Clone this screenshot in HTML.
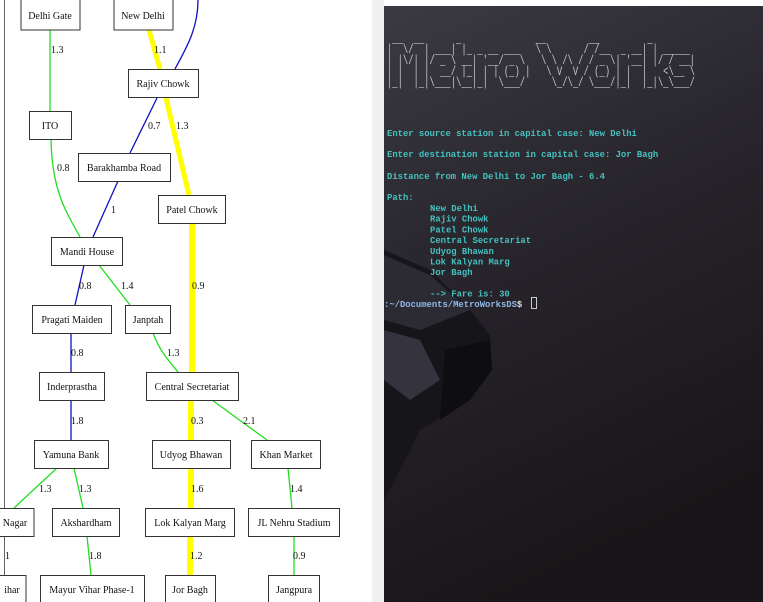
<!DOCTYPE html>
<html><head><meta charset="utf-8"><style>
html,body{margin:0;padding:0;width:763px;height:602px;overflow:hidden;background:#fff}
svg{display:block}
.n{fill:#fff;stroke:#333;stroke-width:1}
.t{font-family:"Liberation Serif",serif;font-size:10px;fill:#111;text-anchor:middle}
.l{font-family:"Liberation Serif",serif;font-size:10px;fill:#111}
.m{font-family:"Liberation Mono",monospace;font-size:8.87px;fill:#45c0c0;font-weight:bold;white-space:pre}
.a{font-family:"Liberation Mono",monospace;font-size:12.5px;fill:#c8c8cc;white-space:pre}
</style></head><body>
<svg width="763" height="602" xmlns="http://www.w3.org/2000/svg">
<defs>
<linearGradient id="bg" x1="0" y1="0" x2="0.3" y2="1">
<stop offset="0" stop-color="#3b3a42"/><stop offset="0.5" stop-color="#26232a"/><stop offset="1" stop-color="#1a1518"/>
</linearGradient>
</defs>
<rect x="372" y="0" width="12" height="602" fill="#f0f0f0"/>
<line x1="4.5" y1="0" x2="4.5" y2="602" stroke="#666" stroke-width="1"/>
<g fill="none">
<path d="M50 30 L50 111" stroke="#22dd22" stroke-width="1.3"/>
<path d="M149 30 L160 69" stroke="#ffff00" stroke-width="5"/>
<path d="M198 0 C198 30 185 50 175 69" stroke="#1010c0" stroke-width="1.3"/>
<path d="M166 98 L189 195" stroke="#ffff00" stroke-width="5"/>
<path d="M157 98 L130 153" stroke="#1010c0" stroke-width="1.3"/>
<path d="M51 139 C52 190 65 210 80 237" stroke="#22dd22" stroke-width="1.3"/>
<path d="M118 181 L93 237" stroke="#1010c0" stroke-width="1.3"/>
<path d="M192 223 L192 372" stroke="#ffff00" stroke-width="6"/>
<path d="M84 265 L75 305" stroke="#1010c0" stroke-width="1.3"/>
<path d="M99 265 L130 305" stroke="#22dd22" stroke-width="1.3"/>
<path d="M71 333 L71 372" stroke="#1010c0" stroke-width="1.3"/>
<path d="M153 333 C160 352 170 362 178 372" stroke="#22dd22" stroke-width="1.3"/>
<path d="M71 400 L71 440" stroke="#1010c0" stroke-width="1.3"/>
<path d="M191 400 L191 440" stroke="#ffff00" stroke-width="6"/>
<path d="M212 400 L267 440" stroke="#22dd22" stroke-width="1.3"/>
<path d="M57 468 L14 508" stroke="#22dd22" stroke-width="1.3"/>
<path d="M74 468 L83 508" stroke="#22dd22" stroke-width="1.3"/>
<path d="M191 468 L191 508" stroke="#ffff00" stroke-width="6"/>
<path d="M288 468 L292 508" stroke="#22dd22" stroke-width="1.3"/>
<path d="M87 536 L91 575" stroke="#22dd22" stroke-width="1.3"/>
<path d="M190 536 L190 575" stroke="#ffff00" stroke-width="6"/>
<path d="M294 536 L294 575" stroke="#22dd22" stroke-width="1.3"/>
</g>
<g class="l">
<text x="51" y="53">1.3</text><text x="154" y="53">1.1</text>
<text x="148" y="129">0.7</text><text x="176" y="129">1.3</text>
<text x="57" y="171">0.8</text><text x="111" y="213">1</text>
<text x="79" y="289">0.8</text><text x="121" y="289">1.4</text><text x="192" y="289">0.9</text>
<text x="71" y="356">0.8</text><text x="167" y="356">1.3</text>
<text x="71" y="424">1.8</text><text x="191" y="424">0.3</text><text x="243" y="424">2.1</text>
<text x="39" y="492">1.3</text><text x="79" y="492">1.3</text><text x="191" y="492">1.6</text><text x="290" y="492">1.4</text>
<text x="5" y="559">1</text><text x="89" y="559">1.8</text><text x="190" y="559">1.2</text><text x="293" y="559">0.9</text>
</g>
<g>
<rect class="n" x="21" y="-2" width="59" height="32"/><text class="t" x="50" y="19">Delhi Gate</text>
<rect class="n" x="114" y="-2" width="59" height="32"/><text class="t" x="143" y="19">New Delhi</text>
<rect class="n" x="128.5" y="69.5" width="70" height="28"/><text class="t" x="163" y="87">Rajiv Chowk</text>
<rect class="n" x="29.5" y="111.5" width="42" height="28"/><text class="t" x="50" y="129">ITO</text>
<rect class="n" x="78.5" y="153.5" width="92" height="28"/><text class="t" x="124" y="171">Barakhamba Road</text>
<rect class="n" x="158.5" y="195.5" width="67" height="28"/><text class="t" x="192" y="213">Patel Chowk</text>
<rect class="n" x="51.5" y="237.5" width="71" height="28"/><text class="t" x="87" y="255">Mandi House</text>
<rect class="n" x="32.5" y="305.5" width="79" height="28"/><text class="t" x="72" y="323">Pragati Maiden</text>
<rect class="n" x="125.5" y="305.5" width="45" height="28"/><text class="t" x="148" y="323">Janptah</text>
<rect class="n" x="39.5" y="372.5" width="65" height="28"/><text class="t" x="72" y="390">Inderprastha</text>
<rect class="n" x="146.5" y="372.5" width="92" height="28"/><text class="t" x="192" y="390">Central Secretariat</text>
<rect class="n" x="34.5" y="440.5" width="74" height="28"/><text class="t" x="71" y="458">Yamuna Bank</text>
<rect class="n" x="152.5" y="440.5" width="78" height="28"/><text class="t" x="191" y="458">Udyog Bhawan</text>
<rect class="n" x="251.5" y="440.5" width="69" height="28"/><text class="t" x="286" y="458">Khan Market</text>
<rect class="n" x="-10" y="508.5" width="44" height="28"/><text class="t" x="15" y="526">Nagar</text>
<rect class="n" x="52.5" y="508.5" width="67" height="28"/><text class="t" x="86" y="526">Akshardham</text>
<rect class="n" x="145.5" y="508.5" width="89" height="28"/><text class="t" x="190" y="526">Lok Kalyan Marg</text>
<rect class="n" x="248.5" y="508.5" width="91" height="28"/><text class="t" x="294" y="526">JL Nehru Stadium</text>
<rect class="n" x="-10" y="575.5" width="36" height="30"/><text class="t" x="12" y="593">ihar</text>
<rect class="n" x="40.5" y="575.5" width="104" height="30"/><text class="t" x="92" y="593">Mayur Vihar Phase-1</text>
<rect class="n" x="165.5" y="575.5" width="50" height="30"/><text class="t" x="190" y="593">Jor Bagh</text>
<rect class="n" x="268.5" y="575.5" width="51" height="30"/><text class="t" x="294" y="593">Jangpura</text>
</g>
<rect x="384" y="6" width="379" height="596" fill="url(#bg)"/>
<g>
<polygon points="384,250 430,270 470,310 490,335 492,370 470,400 420,430 400,470 384,500" fill="#16151a"/>
<polygon points="384,255 430,275 470,310 420,330 384,320" fill="#2c2b34"/>
<polygon points="384,330 420,340 440,380 410,400 384,380" fill="#34333e"/>
<polygon points="445,350 490,340 492,370 470,400 440,420" fill="#0e0d12"/>
</g>
<text class="a"><tspan x="387" y="42" textLength="308" lengthAdjust="spacingAndGlyphs"> __  __      _              __        __         _        </tspan><tspan x="387" y="53" textLength="308" lengthAdjust="spacingAndGlyphs">|  \/  | ___| |_ _ __ ___   \ \      / /__  _ __| | _____ </tspan><tspan x="387" y="64" textLength="308" lengthAdjust="spacingAndGlyphs">| |\/| |/ _ \ __| '__/ _ \   \ \ /\ / / _ \| '__| |/ / __|</tspan><tspan x="387" y="75" textLength="308" lengthAdjust="spacingAndGlyphs">| |  | |  __/ |_| | | (_) |   \ V  V / (_) | |  |   &lt;\__ \</tspan><tspan x="387" y="86" textLength="308" lengthAdjust="spacingAndGlyphs">|_|  |_|\___|\__|_|  \___/     \_/\_/ \___/|_|  |_|\_\___/</tspan></text>
<text class="m">
<tspan x="387" y="136">Enter source station in capital case: New Delhi</tspan>
<tspan x="387" y="157">Enter destination station in capital case: Jor Bagh</tspan>
<tspan x="387" y="179">Distance from New Delhi to Jor Bagh - 6.4</tspan>
<tspan x="387" y="200">Path:</tspan>
<tspan x="430" y="211">New Delhi</tspan>
<tspan x="430" y="221.7">Rajiv Chowk</tspan>
<tspan x="430" y="232.4">Patel Chowk</tspan>
<tspan x="430" y="243.1">Central Secretariat</tspan>
<tspan x="430" y="253.8">Udyog Bhawan</tspan>
<tspan x="430" y="264.5">Lok Kalyan Marg</tspan>
<tspan x="430" y="275.2">Jor Bagh</tspan>
<tspan x="430" y="296.5">--&gt; Fare is: 30</tspan>
</text>
<text class="m" x="384" y="307" style="fill:#8fb8e8">:~/Documents/MetroWorksDS<tspan style="fill:#ddd">$</tspan></text>
<rect x="531.5" y="297.5" width="5" height="11" fill="none" stroke="#ccc" stroke-width="1"/>
</svg>
</body></html>
